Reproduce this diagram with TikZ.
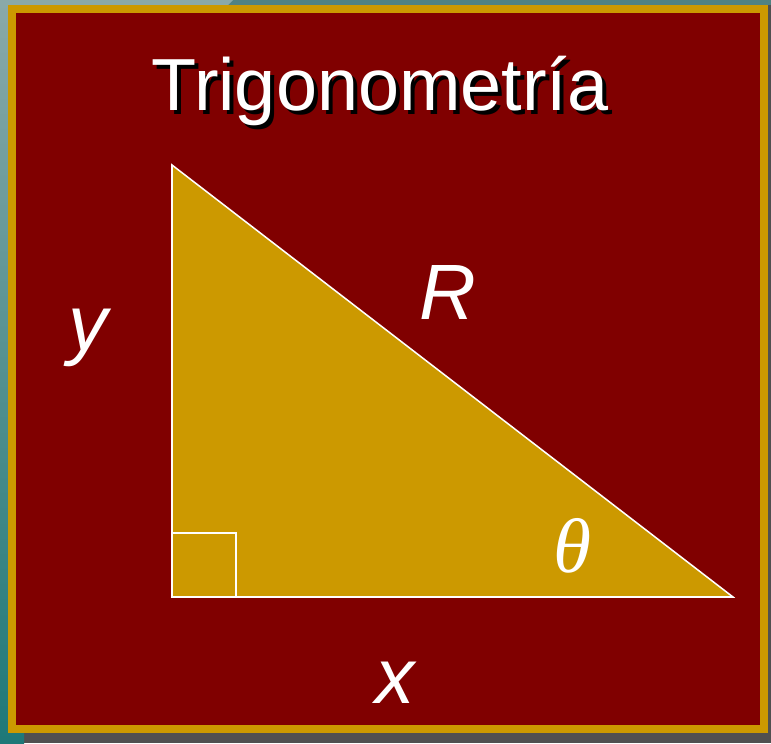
\documentclass[tikz,border=0pt]{standalone}
\usepackage{fontspec}
\setmainfont{Liberation Sans}
\newfontfamily\thetafont{Liberation Serif}
\definecolor{slidered}{HTML}{800000}
\definecolor{slidegold}{HTML}{CC9900}
\definecolor{edgegray}{HTML}{505050}
\definecolor{edgeteal}{HTML}{508282}
\definecolor{lightteal}{HTML}{8AA9A9}
\definecolor{darkteal}{HTML}{1E7878}
\tikzset{
  side/.style={white,font=\fontsize{67}{70}\selectfont\itshape,anchor=base},
  heading/.style={font=\fontsize{63}{70}\selectfont,anchor=base}
}
\begin{document}
\begin{tikzpicture}[x=0.03cm,y=-0.03cm]
% frame of the slide
\fill[edgegray] (0,0) rectangle (771,743);
\fill[edgeteal] (0,0) rectangle (771,5);
\shade[top color=lightteal,bottom color=darkteal] (0,0) rectangle (24,743);
\fill[lightteal] (0,0) -- (233,0) -- (228,5) -- (0,5) -- cycle;
\fill[slidegold] (8,5) rectangle (768,733);
\fill[slidered] (16,13) rectangle (760,725);

\node[heading,black] (shadow) at (384,114) {Trigonometría};
\node[heading,white] (title) at (380,110) {Trigonometría};

\coordinate (A) at (172,165);
\coordinate (B) at (172,597);
\coordinate (C) at (733,597);
\coordinate (S) at (236,533);

\draw[white,line width=1.3pt,fill=slidegold] (A) -- (B) -- (C) -- cycle;
\draw[white,line width=1.3pt] (B |- S) -- (S) -- (S |- B);

\node[side] (y) at (88,350) {y};
\node[side] (R) at (448,319) {R};
\node[side] (x) at (395,703) {x};
\node[white,anchor=base,font=\fontsize{66}{70}\selectfont\thetafont\itshape] (theta) at (572,572) {θ};
\end{tikzpicture}
\end{document}
